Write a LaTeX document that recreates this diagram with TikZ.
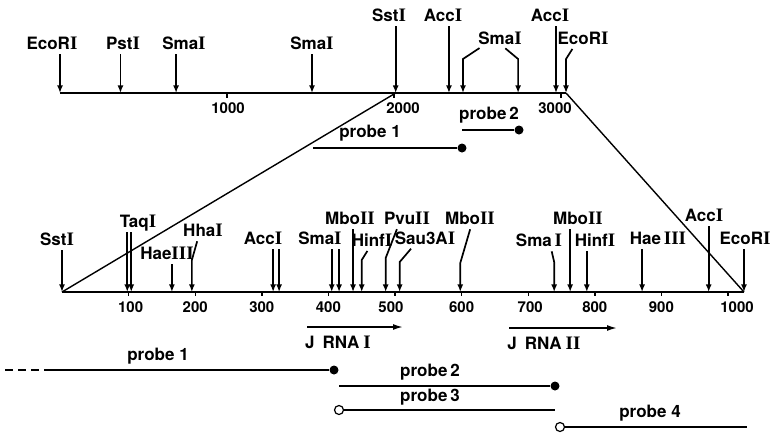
\documentclass[tikz,border=0pt]{standalone}
\usepackage{fontspec}
\setmainfont{TeX Gyre Heros}
\newfontfamily\romfont[Scale=1.12]{Liberation Serif}
\usetikzlibrary{arrows.meta}
\newcommand{\rn}[1]{{\romfont\bfseries #1}}

\begin{document}
\begin{tikzpicture}[
    x=0.5pt, y=-0.5pt,
    mapline/.style={line width=1.1pt},
    zoomline/.style={line width=0.7pt},
    cut/.style={line width=0.85pt, -{Latex[length=3.8pt,width=3pt]}, shorten <=1.5pt},
    enz/.style={font=\fontsize{8.5}{9}\selectfont\bfseries, inner sep=1pt,
                anchor=base, text depth=0pt},
    num/.style={font=\fontsize{7.5}{8}\selectfont\bfseries, inner sep=1pt, anchor=base},
    plbl/.style={font=\fontsize{8.5}{9}\selectfont\bfseries, inner sep=1pt, anchor=base},
    probeline/.style={line width=0.9pt},
    rna/.style={line width=0.8pt, -{Latex[length=5pt,width=3pt]}},
    dotf/.style={circle, fill, inner sep=0pt, minimum size=4.5pt},
    doto/.style={circle, draw, line width=0.6pt, fill=white, inner sep=0pt, minimum size=4.5pt},
    tick/.style={line width=0.7pt}
]
\useasboundingbox (0,0) rectangle (772,436);

% ---------- upper map, 0 to 3000 ----------
\foreach \n/\p in {eco1/0, pst/362, sma1/695, sma2/1509, sst/2010, acc1/2329,
                   sma3/2413, sma4/2743, acc2/2970, eco2/3030}
  \coordinate (t-\n) at ({60+0.167*\p},93);
\draw[mapline] (t-eco1) -- (t-eco2);
\foreach \k/\lx in {1/228, 2/403, 3/555} {
  \coordinate (tt\k) at ({60+167*\k},93);
  \draw[tick] (tt\k) -- ++(0,5);
  \node[num] (tn\k) at (\lx,113) {\k000};
}

% ---------- upper map, sites ----------
\node[enz] (te1)  at (52,49)  {EcoR\rn{I}};
\node[enz] (tp)   at (123,49) {Pst\rn{I}};
\node[enz] (ts1)  at (184,49) {Sma\rn{I}};
\node[enz] (ts2)  at (312,49) {Sma\rn{I}};
\node[enz] (tsst) at (389,21) {Sst\rn{I}};
\node[enz] (ta1)  at (443,21) {Acc\rn{I}};
\node[enz] (ts3)  at (500,44) {Sma\rn{I}};
\node[enz] (ta2)  at (550,21) {Acc\rn{I}};
\node[enz] (te2)  at (583,44) {EcoR\rn{I}};

\foreach \l/\s in {te1/eco1, tp/pst, ts1/sma1, ts2/sma2, tsst/sst, ta1/acc1, ta2/acc2}
  \draw[cut] (\l.south -| t-\s) -- (t-\s);
\draw[cut] ([xshift=-9pt]ts3.south) -- ([yshift=17pt]t-sma3) -- (t-sma3);
\draw[cut] ([xshift=1.5pt]ts3.south) -- ([yshift=17pt]t-sma4) -- (t-sma4);
\draw[cut] ([xshift=-4.5pt]te2.south) -- ([yshift=17pt]t-eco2) -- (t-eco2);

% ---------- upper probes ----------
\coordinate (tp1s) at (313,148);
\node[dotf] (tp1e) at (462,148) {};
\draw[probeline] (tp1s) -- (tp1e);
\node[plbl] (tp1l) at (370,137) {probe 1};
\coordinate (tp2s) at (462,130);
\node[dotf] (tp2e) at (519,130) {};
\draw[probeline] (tp2s) -- (tp2e);
\node[plbl] (tp2l) at (489,119) {probe\,2};

% ---------- lower map, SstI to EcoRI ----------
\foreach \n/\p in {sst/0, taq1/98, taq2/104, hae1/165, hha/195, acc1/317, acc2/326,
                   sma1/405, sma2/416, mbo1/437, hinf1/450, pvu/486, sau/507, mbo2/598,
                   sma3/739, mbo3/763, hinf2/788, hae2/871, acc3/971, eco/1024}
  \coordinate (b-\n) at ({62+0.666*\p},292);
\draw[mapline] (b-sst) -- (b-eco);
\foreach \k/\dx in {1/2, 2/0, 3/0, 4/0, 5/-4, 6/0, 7/2, 8/0, 9/0, 10/9} {
  \coordinate (bt\k) at ({62+66.6*\k},292);
  \draw[tick] (bt\k) -- ++(0,4);
  \node[num] (bn\k) at ({62+66.6*\k+\dx},312) {\k00};
}

% ---------- expansion lines ----------
\draw[zoomline] (t-sst) -- (b-sst);
\draw[zoomline] (t-eco2) -- (b-eco);

% ---------- lower map, sites ----------
\node[enz] (bsst)  at (57,245)  {Sst\rn{I}};
\node[enz] (btaq)  at (138,227) {Taq\rn{I}};
\node[enz] (bhae1) at (167,259) {Hae\rn{III}};
\node[enz] (bhha)  at (203,236) {Hha\rn{I}};
\node[enz] (bacc1) at (263,244) {Acc\rn{I}};
\node[enz] (bsma1) at (320,244) {Sma\rn{I}};
\node[enz] (bmbo1) at (350,224) {Mbo\rn{II}};
\node[enz] (bhin1) at (372,246) {Hinf\rn{I}};
\node[enz] (bpvu)  at (407,224) {Pvu\rn{II}};
\node[enz] (bsau)  at (425,244) {Sau3A\rn{I}};
\node[enz] (bmbo2) at (470,224) {Mbo\rn{II}};
\node[enz] (bsma3) at (539,246) {Sma\,\rn{I}};
\node[enz] (bmbo3) at (578,224) {Mbo\rn{II}};
\node[enz] (bhin2) at (595,246) {Hinf\rn{I}};
\node[enz] (bhae2) at (658,244) {Hae\,\rn{III}};
\node[enz] (bacc3) at (704,221) {Acc\rn{I}};
\node[enz] (beco)  at (745,244) {EcoR\rn{I}};

\foreach \l/\s in {bsst/sst, btaq/taq1, btaq/taq2, bhae1/hae1, bacc1/acc1, bacc1/acc2,
                   bsma1/sma1, bsma1/sma2, bmbo1/mbo1, bmbo3/mbo3, bhin2/hinf2,
                   bhae2/hae2, bacc3/acc3, beco/eco}
  \draw[cut] (\l.south -| b-\s) -- (b-\s);
\draw[cut] ([xshift=-2.5pt]bhha.south) -- ([yshift=16pt]b-hha) -- (b-hha);
\draw[cut] ([xshift=-1.5pt]bhin1.south) -- ([yshift=16pt]b-hinf1) -- (b-hinf1);
\draw[cut] ([xshift=-4.5pt]bpvu.south) -- ([yshift=17pt]b-pvu) -- (b-pvu);
\draw[cut] ([xshift=-6pt]bsau.south) -- ([yshift=15pt]b-sau) -- (b-sau);
\draw[cut] ([xshift=0.5pt]bmbo2.south) -- ([yshift=14.5pt]b-mbo2) -- (b-mbo2);
\draw[cut] ([xshift=6pt]bsma3.south) -- ([yshift=15pt]b-sma3) -- (b-sma3);

% ---------- transcripts ----------
\coordinate (r1s) at (307,327);
\coordinate (r1e) at (403,327);
\draw[rna] (r1s) -- (r1e);
\node[plbl] (r1l) at (338,348) {J\hspace{4pt}RNA\hspace{2pt}\rn{I}};
\coordinate (r2s) at (509,328);
\coordinate (r2e) at (617,328);
\draw[rna] (r2s) -- (r2e);
\node[plbl] (r2l) at (544,349) {J\hspace{4pt}RNA\hspace{2pt}\rn{II}};

% ---------- lower probes ----------
\coordinate (bp1a) at (5,370);
\coordinate (bp1s) at (50,370);
\node[dotf] (bp1e) at (334,370) {};
\draw[probeline, dash pattern=on 4pt off 2.5pt] (bp1a) -- (bp1s);
\draw[probeline] (bp1s) -- (bp1e);
\node[plbl] (bp1l) at (158,360) {probe 1};

\coordinate (bp2s) at (339,386);
\node[dotf] (bp2e) at (555,386) {};
\draw[probeline] (bp2s) -- (bp2e);
\node[plbl] (bp2l) at (430,376) {probe\,2};

\node[doto] (bp3s) at (339,410) {};
\coordinate (bp3e) at (555,410);
\draw[probeline] (bp3s) -- (bp3e);
\node[plbl] (bp3l) at (430,401) {probe\,3};

\node[doto] (bp4s) at (560,427) {};
\coordinate (bp4e) at (747,427);
\draw[probeline] (bp4s) -- (bp4e);
\node[plbl] (bp4l) at (650,417) {probe 4};

\end{tikzpicture}
\end{document}
